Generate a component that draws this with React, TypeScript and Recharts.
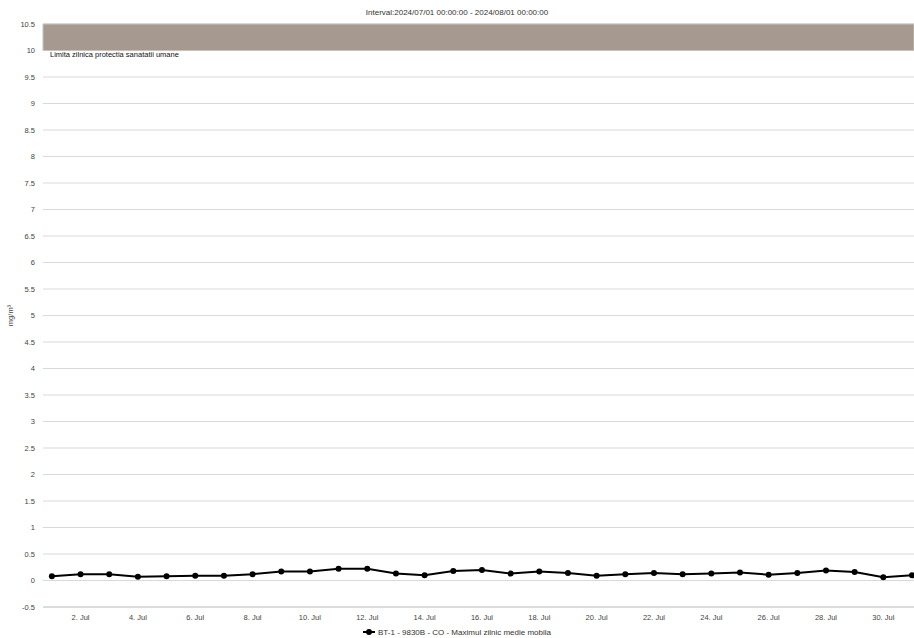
import React from 'react'
import {
  LineChart,
  Line,
  XAxis,
  YAxis,
  CartesianGrid,
  ReferenceArea,
  Legend,
} from 'recharts'

const days = [1, 2, 3, 4, 5, 6, 7, 8, 9, 10, 11, 12, 13, 14, 15, 16, 17, 18, 19, 20, 21, 22, 23, 24, 25, 26, 27, 28, 29, 30, 31]
const coValues = [0.08, 0.12, 0.12, 0.07, 0.08, 0.09, 0.09, 0.12, 0.17, 0.17, 0.22, 0.22, 0.13, 0.1, 0.18, 0.2, 0.13, 0.17, 0.14, 0.09, 0.12, 0.14, 0.12, 0.13, 0.15, 0.11, 0.14, 0.19, 0.16, 0.06, 0.1]
const xTicks = [2, 4, 6, 8, 10, 12, 14, 16, 18, 20, 22, 24, 26, 28, 30]
const yTicks = [-0.5, 0, 0.5, 1, 1.5, 2, 2.5, 3, 3.5, 4, 4.5, 5, 5.5, 6, 6.5, 7, 7.5, 8, 8.5, 9, 9.5, 10, 10.5]
const limitLow = 10
const limitHigh = 10.5

const seriesName = 'BT-1 - 9830B - CO - Maximul zilnic medie mobila'
const title = 'Interval:2024/07/01 00:00:00 - 2024/08/01 00:00:00'
const limitLabel = 'Limita zilnica protectia sanatatii umane'

const data = days.map((d, i) => ({ day: d, value: coValues[i] }))

const font = '"Liberation Sans", Arial, sans-serif'

function LegendContent() {
  return (
    <div style={{ display: 'flex', justifyContent: 'center', alignItems: 'center', fontFamily: font, fontSize: 8, color: '#333', height: 10 }}>
      <svg width={12} height={8} style={{ marginRight: 3 }}>
        <line x1={0} y1={4} x2={12} y2={4} stroke="#000" strokeWidth={2} />
        <circle cx={6} cy={4} r={3} fill="#000" />
      </svg>
      <span>{seriesName}</span>
    </div>
  )
}

export default function App() {
  return (
    <div style={{ position: 'absolute', left: 0, top: 0, width: 914, height: 638, background: '#fff' }}>
      <div style={{ position: 'absolute', top: 8, left: 0, width: 914, textAlign: 'center', fontFamily: font, fontSize: 8, color: '#333' }}>
        {title}
      </div>
      <LineChart width={914} height={638} data={data} margin={{ top: 24, right: 0, bottom: 0, left: 0 }}>
        <CartesianGrid vertical={false} stroke="#d9d9d9" />
        <ReferenceArea
          y1={limitLow}
          y2={limitHigh}
          fill="#a69a90"
          fillOpacity={1}
          stroke="#c9c1ba"
          label={(props: any) => {
            const vb = props.viewBox || {}
            return (
              <text x={(vb.x || 0) + 7} y={(vb.y || 0) + (vb.height || 0) + 6} fontSize={7.5} fontFamily={font} fill="#111">
                {limitLabel}
              </text>
            )
          }}
        />
        <XAxis
          type="number"
          dataKey="day"
          domain={[0.69, 31.07]}
          ticks={xTicks}
          tickFormatter={(d: number) => `${d}. Jul`}
          tick={{ fontSize: 7.5, fontFamily: font, fill: '#444' }}
          axisLine={{ stroke: '#ccc' }}
          tickLine={false}
          allowDataOverflow
          height={20}
        />
        <YAxis
          type="number"
          domain={[-0.5, 10.5]}
          ticks={yTicks}
          interval={0}
          tick={{ fontSize: 7.5, fontFamily: font, fill: '#444' }}
          axisLine={false}
          tickLine={false}
          width={43}
          label={{ value: 'mg/m³', angle: -90, position: 'insideLeft', offset: 10, style: { fontSize: 7.5, fontFamily: font, fill: '#444', textAnchor: 'middle' } }}
        />
        <Legend verticalAlign="bottom" height={11} content={<LegendContent />} />
        <Line
          type="linear"
          dataKey="value"
          stroke="#000"
          strokeWidth={2}
          dot={{ r: 3, fill: '#000', stroke: '#000', strokeWidth: 0 }}
          isAnimationActive={false}
        />
      </LineChart>
    </div>
  )
}
